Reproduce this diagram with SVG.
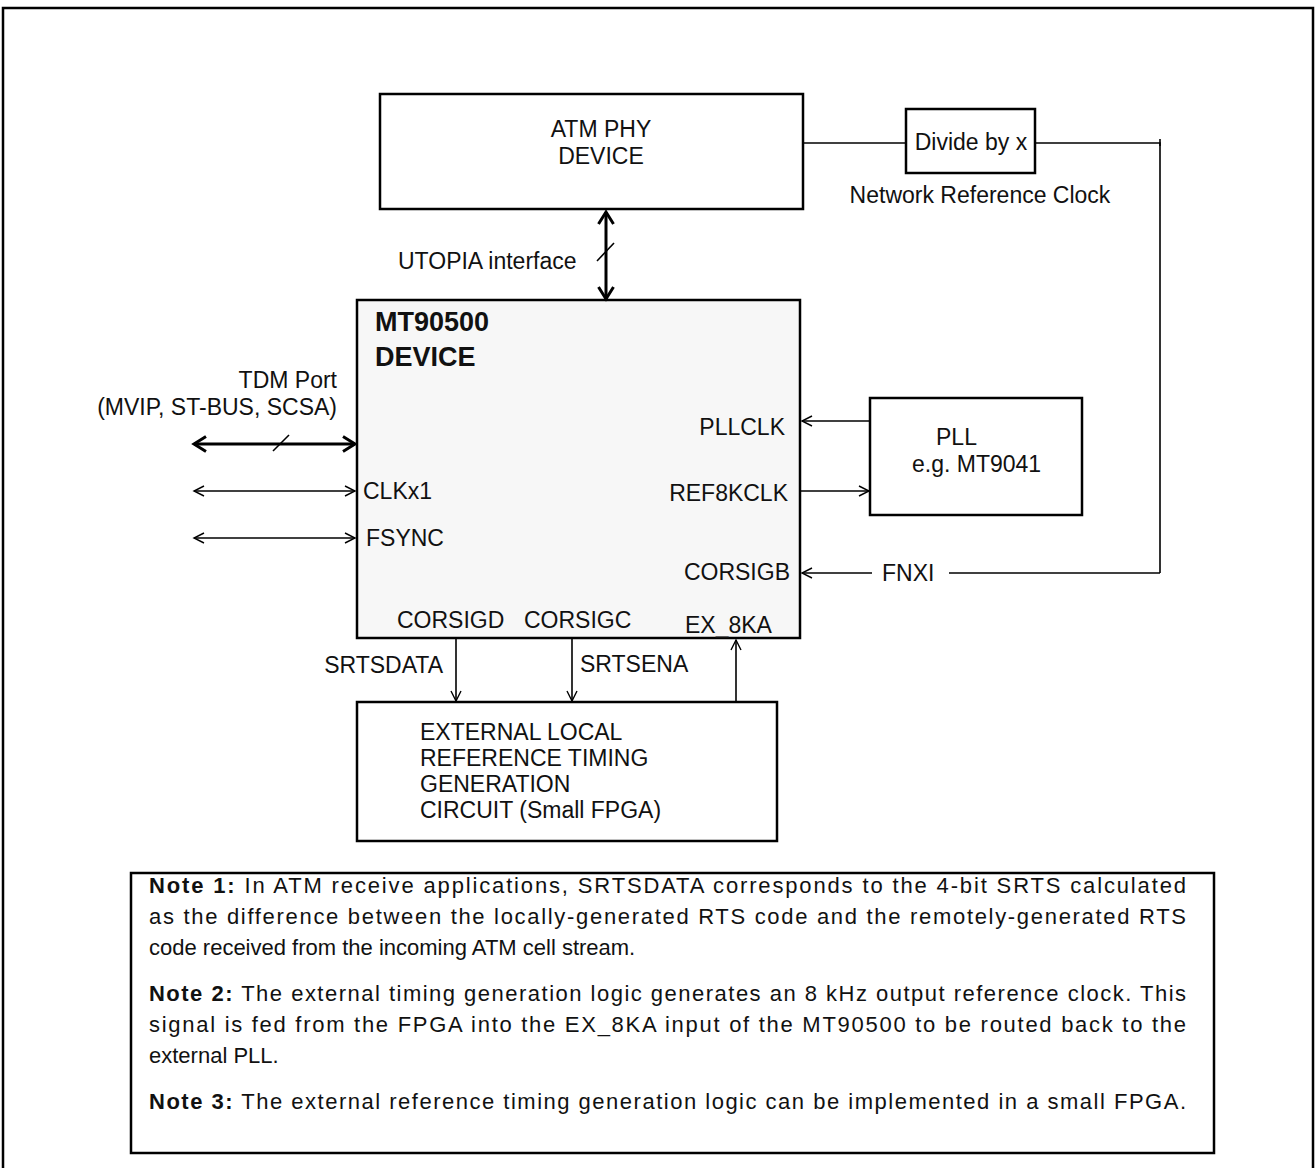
<svg xmlns="http://www.w3.org/2000/svg" width="1316" height="1168" viewBox="0 0 1316 1168">
<style>
text{font-family:"Liberation Sans",Arial,sans-serif;font-size:23px;fill:#111}
.box{fill:#fff;stroke:#000;stroke-width:2.5}
.thin{stroke:#000;stroke-width:1.6;fill:none}
.thick{stroke:#000;stroke-width:3;fill:none}
.b{font-weight:bold}
.e{text-anchor:end}
.m{text-anchor:middle}
.n{font-size:22px}
</style>
<defs>
<marker id="ah" markerWidth="14" markerHeight="12" refX="11" refY="6" orient="auto-start-reverse" markerUnits="userSpaceOnUse">
<path d="M1,1 L11,6 L1,11" fill="none" stroke="#000" stroke-width="1.4"/>
</marker>
<marker id="ahT" markerWidth="16" markerHeight="18" refX="13" refY="9" orient="auto-start-reverse" markerUnits="userSpaceOnUse">
<path d="M1,1.5 L13,9 L1,16.5" fill="none" stroke="#000" stroke-width="3"/>
</marker>
</defs>
<rect x="3" y="8" width="1310" height="1200" fill="none" stroke="#000" stroke-width="2.5"/>

<g id="atm-phy">
<rect class="box" x="380" y="94" width="423" height="115"/>
<text class="m" x="601" y="137">ATM PHY</text>
<text class="m" x="601" y="164">DEVICE</text>
</g>
<g id="divide">
<rect class="box" x="906" y="109" width="129" height="64"/>
<text class="m" x="971" y="150">Divide by x</text>
</g>
<g id="mt90500">
<rect x="357" y="300" width="443" height="338" fill="#f7f7f7" stroke="#000" stroke-width="2.5"/>
<text class="b" x="375" y="331" style="font-size:27px">MT90500</text>
<text class="b" x="375" y="366" style="font-size:27px">DEVICE</text>
<text x="363" y="499">CLKx1</text>
<text x="366" y="546">FSYNC</text>
<text class="e" x="785" y="435">PLLCLK</text>
<text class="e" x="788" y="501">REF8KCLK</text>
<text class="e" x="790" y="580">CORSIGB</text>
<text x="397" y="628">CORSIGD</text>
<text x="524" y="628">CORSIGC</text>
<text x="685" y="633">EX_8KA</text>
</g>
<g id="pll">
<rect class="box" x="870" y="398" width="212" height="117"/>
<text x="936" y="445">PLL</text>
<text x="912" y="472">e.g. MT9041</text>
</g>
<g id="ext">
<rect class="box" x="357" y="702" width="420" height="139"/>
<text x="420" y="740">EXTERNAL LOCAL</text>
<text x="420" y="766">REFERENCE TIMING</text>
<text x="420" y="792">GENERATION</text>
<text x="420" y="818">CIRCUIT (Small FPGA)</text>
</g>

<g id="connectors">
<line class="thin" x1="803" y1="143" x2="906" y2="143"/>
<polyline class="thin" points="1035,143 1160,143 1160,573"/>
<line class="thin" x1="1160" y1="139" x2="1160" y2="146"/>
<line class="thick" x1="606" y1="212" x2="606" y2="299" marker-start="url(#ahT)" marker-end="url(#ahT)"/>
<line class="thin" x1="597" y1="261" x2="614" y2="243" stroke-width="2"/>
<line class="thick" x1="194" y1="444" x2="355" y2="444" marker-start="url(#ahT)" marker-end="url(#ahT)"/>
<line class="thin" x1="273" y1="451" x2="289" y2="435" stroke-width="2"/>
<line class="thin" x1="194" y1="491" x2="355" y2="491" marker-start="url(#ah)" marker-end="url(#ah)"/>
<line class="thin" x1="194" y1="538" x2="355" y2="538" marker-start="url(#ah)" marker-end="url(#ah)"/>
<line class="thin" x1="870" y1="421" x2="802" y2="421" marker-end="url(#ah)"/>
<line class="thin" x1="800" y1="491" x2="869" y2="491" marker-end="url(#ah)"/>
<line class="thin" x1="872" y1="573" x2="802" y2="573" marker-end="url(#ah)"/>
<line class="thin" x1="949" y1="573" x2="1160" y2="573"/>
<line class="thin" x1="456" y1="639" x2="456" y2="701" marker-end="url(#ah)"/>
<line class="thin" x1="572" y1="639" x2="572" y2="701" marker-end="url(#ah)"/>
<line class="thin" x1="736" y1="702" x2="736" y2="640" marker-end="url(#ah)"/>
<text class="m" x="980" y="203">Network Reference Clock</text>
<text x="398" y="269">UTOPIA interface</text>
<text class="e" x="337" y="388">TDM Port</text>
<text class="e" x="337" y="415">(MVIP, ST-BUS, SCSA)</text>
<text x="882" y="581">FNXI</text>
<text class="e" x="443" y="673">SRTSDATA</text>
<text x="580" y="672">SRTSENA</text>
</g>

<g id="notes">
<rect class="box" x="131" y="873" width="1083" height="280"/>
<text class="n" x="149" y="893" textLength="1037" lengthAdjust="spacing"><tspan class="b">Note 1:</tspan> In ATM receive applications, SRTSDATA corresponds to the 4-bit SRTS calculated</text>
<text class="n" x="149" y="924" textLength="1037" lengthAdjust="spacing">as the difference between the locally-generated RTS code and the remotely-generated RTS</text>
<text class="n" x="149" y="955">code received from the incoming ATM cell stream.</text>
<text class="n" x="149" y="1001" textLength="1037" lengthAdjust="spacing"><tspan class="b">Note 2:</tspan> The external timing generation logic generates an 8 kHz output reference clock. This</text>
<text class="n" x="149" y="1032" textLength="1037" lengthAdjust="spacing">signal is fed from the FPGA into the EX_8KA input of the MT90500 to be routed back to the</text>
<text class="n" x="149" y="1063">external PLL.</text>
<text class="n" x="149" y="1109" textLength="1037" lengthAdjust="spacing"><tspan class="b">Note 3:</tspan> The external reference timing generation logic can be implemented in a small FPGA.</text>
</g>
</svg>
